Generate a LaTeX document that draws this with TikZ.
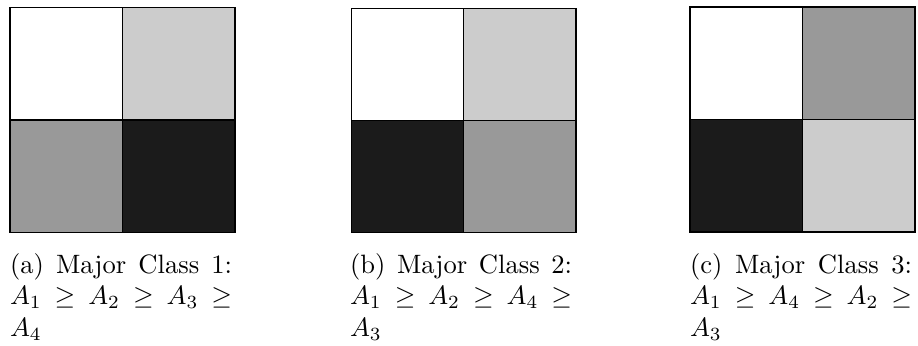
\documentclass[tikz,border=0pt]{standalone}
\usepackage{amssymb}
\definecolor{cwhite}{gray}{1}
\definecolor{clight}{HTML}{CCCCCC}
\definecolor{cmid}{HTML}{999999}
\definecolor{cdark}{HTML}{1B1B1B}
\tikzset{
  cell/.style={draw=black, line width=0.45pt},
  capt/.style={anchor=base west, inner sep=0pt, outer sep=0pt}
}
\newcommand{\mycap}[1]{\parbox[t]{83.6pt}{\rightskip=0pt\parfillskip=0pt plus 1fil #1}}
\begin{document}
\begin{tikzpicture}[x=0.3765pt,y=-0.3765pt]
\useasboundingbox (0,0) rectangle (918,345);
% panel (a)
\begin{scope}[shift={(10,7.5)}]
  \draw[cell, fill=cwhite] (0,0) rectangle (112.5,112.5);
  \draw[cell, fill=clight] (112.5,0) rectangle (225,112.5);
  \draw[cell, fill=cmid] (0,112.5) rectangle (112.5,225);
  \draw[cell, fill=cdark] (112.5,112.5) rectangle (225,225);
\end{scope}
% panel (b)
\begin{scope}[shift={(351.5,8.5)}]
  \draw[cell, fill=cwhite] (0,0) rectangle (112,112);
  \draw[cell, fill=clight] (112,0) rectangle (224.5,112);
  \draw[cell, fill=cdark] (0,112) rectangle (112,224);
  \draw[cell, fill=cmid] (112,112) rectangle (224.5,224);
\end{scope}
% panel (c)
\begin{scope}[shift={(690,7)}]
  \draw[cell, fill=cwhite] (0,0) rectangle (112.5,112.5);
  \draw[cell, fill=cmid] (112.5,0) rectangle (225,112.5);
  \draw[cell, fill=cdark] (0,112.5) rectangle (112.5,225);
  \draw[cell, fill=clight] (112.5,112.5) rectangle (225,225);
\end{scope}
\node[capt] (capa) at (10,273) {\mycap{(a) Major Class 1:\linebreak $A_1 \geq A_2 \geq A_3 \geq$\linebreak $A_4$}};
\node[capt] (capb) at (350,273) {\mycap{(b) Major Class 2:\linebreak $A_1 \geq A_2 \geq A_4 \geq$\linebreak $A_3$}};
\node[capt] (capc) at (690,273) {\mycap{(c) Major Class 3:\linebreak $A_1 \geq A_4 \geq A_2 \geq$\linebreak $A_3$}};
\end{tikzpicture}
\end{document}
